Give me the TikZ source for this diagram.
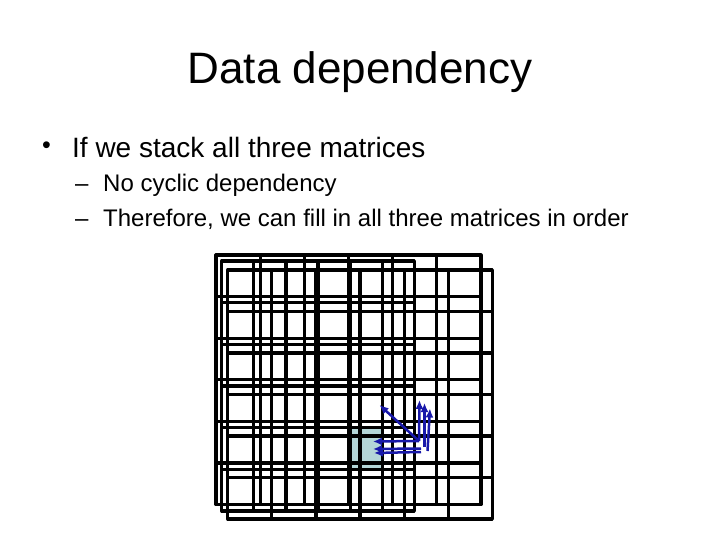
\documentclass[tikz,border=0pt]{standalone}
\usepackage{fontspec}
\setmainfont{Liberation Sans}
\usetikzlibrary{arrows.meta}
\definecolor{cellshade}{RGB}{180,214,216}
\definecolor{arrblue}{RGB}{24,24,170}
\tikzset{
  gridline/.style={draw=black, line width=3.2pt, line join=round, line cap=rect},
  deparrow/.style={draw=arrblue, line width=2.5pt, -{Latex[length=9pt,width=8pt]}},
  titletext/.style={font=\fontsize{44}{44}\selectfont, inner sep=0pt, anchor=base},
  lvlone/.style={font=\fontsize{28}{28}\selectfont, inner sep=0pt, anchor=base west},
  lvltwo/.style={font=\fontsize{24}{24}\selectfont, inner sep=0pt, anchor=base west}
}
\newcommand{\mygrid}[4]{% x0 x1 y0 y1
  \pgfmathsetmacro{\gdx}{(#2-#1)/6}
  \pgfmathsetmacro{\gdy}{(#4-#3)/6}
  \foreach \i in {1,...,5}{
    \draw[gridline] ({#1+\i*\gdx},#3) -- ({#1+\i*\gdx},#4);
    \draw[gridline] (#1,{#3+\i*\gdy}) -- (#2,{#3+\i*\gdy});
  }
  \draw[gridline] (#1,#3) rectangle (#2,#4);
}
\begin{document}
\begin{tikzpicture}[x=1pt,y=-1pt]
\useasboundingbox (0,0) rectangle (720,540);
% text
\node[titletext] (title) at (360,84) {Data dependency};
\node[lvlone, font=\fontsize{25}{25}\selectfont] (b1mark) at (42,154) {•};
\node[lvlone] (b1) at (72,158) {If we stack all three matrices};
\node[lvltwo] (d1) at (75,192) {–};
\node[lvltwo] (s1) at (103,192) {No cyclic dependency};
\node[lvltwo] (d2) at (75,226) {–};
\node[lvltwo] (s2) at (103,226) {Therefore, we can fill in all three matrices in order};
% shaded cell
\fill[cellshade] (350.1,427.7) rectangle (382.2,469.3);
% grids
\mygrid{216}{481}{255}{504.5}
\mygrid{221.7}{414.3}{261}{511}
\mygrid{227.7}{492.3}{270}{519}
% arrows
\coordinate (o1) at (419,441);
\coordinate (o2) at (424.5,447);
\coordinate (o3) at (427.5,451);
\coordinate (o2l) at (421,448.5);
\coordinate (o3l) at (421,452);
\coordinate (hd) at (379.5,405);
\coordinate (hu1) at (419.5,400);
\coordinate (hu2) at (424.5,403);
\coordinate (hu3) at (430,408.5);
\coordinate (hl1) at (373,441.5);
\coordinate (hl2) at (373,449);
\coordinate (hl3) at (374,453);
\draw[deparrow] (o1) -- (hd);
\draw[deparrow] (o1) -- (hu1);
\draw[deparrow] (o1) -- (hl1);
\draw[deparrow] (o2) -- (hu2);
\draw[deparrow] (o2l) -- (hl2);
\draw[deparrow] (o3) -- (hu3);
\draw[deparrow] (o3l) -- (hl3);
\end{tikzpicture}
\end{document}
